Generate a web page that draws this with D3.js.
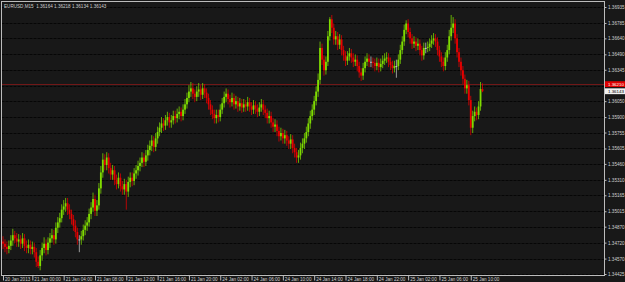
<!DOCTYPE html>
<html>
<head>
<meta charset="utf-8">
<script src="https://cdn.jsdelivr.net/npm/d3@7"></script>
<style>
  body { margin: 0; background: #181818; }
</style>
</head>
<body>
<div id="chart"></div>
<script>
// EURUSD M15, one value per candle
const symbolTitle = "EURUSD,M15  1.36164 1.36218 1.36134 1.36143"

const opens = [
  1.3473,1.3471,1.3468,1.3466,1.3469,1.3474,1.3479,1.3476,1.3473,1.3475,
  1.3471,1.3476,1.3469,1.3467,1.3470,1.3466,1.3468,1.3463,1.3454,1.3450,
  1.3460,1.3467,1.3471,1.3465,1.3472,1.3476,1.3479,1.3475,1.3486,1.3491,
  1.3495,1.3503,1.3506,1.3509,1.3503,1.3499,1.3494,1.3488,1.3482,1.3475,
  1.3475,1.3478,1.3484,1.3488,1.3491,1.3499,1.3505,1.3513,1.3502,1.3507,
  1.3523,1.3538,1.3550,1.3545,1.3552,1.3542,1.3536,1.3540,1.3531,1.3527,
  1.3533,1.3525,1.3522,1.3527,1.3520,1.3529,1.3533,1.3530,1.3537,1.3540,
  1.3544,1.3547,1.3552,1.3548,1.3554,1.3559,1.3563,1.3568,1.3562,1.3570,
  1.3576,1.3580,1.3584,1.3582,1.3587,1.3590,1.3585,1.3587,1.3591,1.3589,
  1.3593,1.3595,1.3591,1.3597,1.3602,1.3608,1.3614,1.3617,1.3612,1.3609,
  1.3614,1.3616,1.3611,1.3617,1.3613,1.3608,1.3602,1.3597,1.3593,1.3589,
  1.3592,1.3590,1.3597,1.3603,1.3609,1.3612,1.3607,1.3604,1.3608,1.3602,
  1.3605,1.3600,1.3603,1.3599,1.3602,1.3600,1.3604,1.3600,1.3597,1.3601,
  1.3598,1.3595,1.3599,1.3602,1.3597,1.3594,1.3589,1.3591,1.3585,1.3581,
  1.3583,1.3577,1.3572,1.3575,1.3570,1.3573,1.3568,1.3565,1.3569,1.3561,
  1.3557,1.3552,1.3554,1.3561,1.3565,1.3570,1.3576,1.3584,1.3591,1.3597,
  1.3605,1.3614,1.3625,1.3655,1.3644,1.3634,1.3642,1.3666,1.3682,1.3674,
  1.3663,1.3666,1.3658,1.3663,1.3653,1.3648,1.3643,1.3647,1.3650,1.3646,
  1.3642,1.3644,1.3638,1.3632,1.3629,1.3636,1.3642,1.3645,1.3642,1.3642,
  1.3641,1.3638,1.3641,1.3637,1.3640,1.3643,1.3645,1.3646,1.3642,1.3639,
  1.3636,1.3638,1.3638,1.3644,1.3653,1.3661,1.3672,1.3678,1.3670,1.3664,
  1.3659,1.3661,1.3657,1.3659,1.3653,1.3648,1.3655,1.3655,1.3656,1.3659,
  1.3662,1.3664,1.3661,1.3653,1.3647,1.3642,1.3638,1.3646,1.3653,1.3666,
  1.3674,1.3678,1.3664,1.3651,1.3642,1.3634,1.3626,1.3617,1.3620,1.3606,
  1.3580,1.3591,1.3595,1.3592,1.3600,1.36164
]

const highs = [
  1.3478,1.3475,1.3473,1.3474,1.3479,1.3485,1.3483,1.3481,1.3480,1.3479,
  1.3481,1.3480,1.3474,1.3475,1.3474,1.3473,1.3472,1.3467,1.3459,1.3465,
  1.3472,1.3477,1.3475,1.3477,1.3481,1.3485,1.3484,1.3491,1.3496,1.3500,
  1.3508,1.3512,1.3514,1.3514,1.3508,1.3503,1.3498,1.3493,1.3486,1.3479,
  1.3483,1.3489,1.3493,1.3496,1.3504,1.3510,1.3519,1.3517,1.3512,1.3528,
  1.3544,1.3556,1.3555,1.3557,1.3556,1.3547,1.3545,1.3544,1.3536,1.3538,
  1.3537,1.3530,1.3532,1.3531,1.3534,1.3538,1.3538,1.3542,1.3545,1.3549,
  1.3552,1.3557,1.3556,1.3559,1.3564,1.3568,1.3573,1.3572,1.3575,1.3581,
  1.3585,1.3590,1.3589,1.3592,1.3595,1.3594,1.3592,1.3596,1.3596,1.3598,
  1.3600,1.3599,1.3602,1.3607,1.3613,1.3620,1.3623,1.3622,1.3616,1.3619,
  1.3622,1.3620,1.3622,1.3621,1.3617,1.3612,1.3606,1.3601,1.3597,1.3597,
  1.3597,1.3602,1.3608,1.3614,1.3617,1.3616,1.3611,1.3613,1.3612,1.3610,
  1.3609,1.3608,1.3607,1.3607,1.3606,1.3609,1.3608,1.3604,1.3606,1.3605,
  1.3602,1.3604,1.3607,1.3606,1.3601,1.3598,1.3596,1.3595,1.3589,1.3588,
  1.3587,1.3581,1.3580,1.3579,1.3578,1.3577,1.3572,1.3574,1.3573,1.3565,
  1.3561,1.3559,1.3566,1.3570,1.3575,1.3581,1.3589,1.3596,1.3602,1.3610,
  1.3619,1.3631,1.3661,1.3659,1.3648,1.3647,1.3671,1.3684,1.3686,1.3678,
  1.3671,1.3670,1.3668,1.3667,1.3657,1.3652,1.3652,1.3655,1.3654,1.3650,
  1.3649,1.3648,1.3642,1.3636,1.3641,1.3647,1.3650,1.3649,1.3647,1.3646,
  1.3645,1.3646,1.3645,1.3645,1.3648,1.3650,1.3651,1.3650,1.3646,1.3643,
  1.3643,1.3644,1.3649,1.3658,1.3666,1.3677,1.3681,1.3682,1.3674,1.3668,
  1.3666,1.3665,1.3664,1.3663,1.3657,1.3660,1.3660,1.3661,1.3664,1.3667,
  1.3669,1.3668,1.3665,1.3657,1.3651,1.3646,1.3651,1.3658,1.3672,1.3686,
  1.3684,1.3682,1.3668,1.3655,1.3646,1.3638,1.3630,1.3625,1.3624,1.3610,
  1.3596,1.3600,1.3599,1.3605,1.3623,1.36218
]

const lows = [
  1.3466,1.3463,1.3461,1.3462,1.3465,1.3469,1.3471,1.3468,1.3468,1.3466,
  1.3467,1.3464,1.3462,1.3462,1.3461,1.3461,1.3458,1.3449,1.3448,1.3446,
  1.3455,1.3462,1.3460,1.3461,1.3467,1.3472,1.3470,1.3471,1.3481,1.3486,
  1.3491,1.3498,1.3501,1.3498,1.3494,1.3489,1.3483,1.3477,1.3470,1.3463,
  1.3470,1.3474,1.3479,1.3483,1.3487,1.3494,1.3501,1.3497,1.3497,1.3503,
  1.3518,1.3533,1.3540,1.3540,1.3537,1.3531,1.3531,1.3526,1.3522,1.3523,
  1.3520,1.3517,1.3517,1.3503,1.3515,1.3524,1.3525,1.3526,1.3532,1.3535,
  1.3539,1.3543,1.3543,1.3544,1.3549,1.3554,1.3558,1.3557,1.3558,1.3565,
  1.3572,1.3575,1.3577,1.3578,1.3582,1.3580,1.3580,1.3583,1.3584,1.3585,
  1.3588,1.3586,1.3587,1.3593,1.3598,1.3604,1.3609,1.3607,1.3604,1.3605,
  1.3609,1.3606,1.3607,1.3608,1.3603,1.3597,1.3592,1.3588,1.3584,1.3584,
  1.3585,1.3586,1.3593,1.3599,1.3604,1.3602,1.3599,1.3600,1.3597,1.3598,
  1.3595,1.3596,1.3594,1.3595,1.3595,1.3596,1.3595,1.3592,1.3593,1.3593,
  1.3590,1.3591,1.3595,1.3592,1.3589,1.3584,1.3584,1.3580,1.3576,1.3576,
  1.3572,1.3567,1.3568,1.3565,1.3565,1.3563,1.3560,1.3560,1.3556,1.3552,
  1.3547,1.3547,1.3550,1.3556,1.3560,1.3566,1.3572,1.3579,1.3587,1.3592,
  1.3601,1.3609,1.3621,1.3639,1.3629,1.3630,1.3638,1.3662,1.3669,1.3658,
  1.3658,1.3653,1.3654,1.3648,1.3643,1.3638,1.3639,1.3643,1.3641,1.3637,
  1.3638,1.3633,1.3627,1.3624,1.3625,1.3632,1.3638,1.3637,1.3637,1.3636,
  1.3633,1.3634,1.3632,1.3633,1.3636,1.3639,1.3641,1.3637,1.3634,1.3631,
  1.3632,1.3627,1.3634,1.3640,1.3649,1.3657,1.3668,1.3665,1.3659,1.3654,
  1.3655,1.3652,1.3653,1.3648,1.3643,1.3644,1.3650,1.3651,1.3652,1.3655,
  1.3658,1.3656,1.3648,1.3642,1.3637,1.3633,1.3634,1.3642,1.3649,1.3662,
  1.3669,1.3659,1.3646,1.3637,1.3629,1.3621,1.3612,1.3612,1.3601,1.3573,
  1.3575,1.3586,1.3587,1.3588,1.3596,1.36134
]

const closes = [
  1.3471,1.3468,1.3466,1.3469,1.3474,1.3479,1.3476,1.3473,1.3475,1.3471,
  1.3476,1.3469,1.3467,1.3470,1.3466,1.3468,1.3463,1.3454,1.3450,1.3460,
  1.3467,1.3471,1.3465,1.3472,1.3476,1.3479,1.3475,1.3486,1.3491,1.3495,
  1.3503,1.3506,1.3509,1.3503,1.3499,1.3494,1.3488,1.3482,1.3475,1.3475,
  1.3478,1.3484,1.3488,1.3491,1.3499,1.3505,1.3513,1.3502,1.3507,1.3523,
  1.3538,1.3550,1.3545,1.3552,1.3542,1.3536,1.3540,1.3531,1.3527,1.3533,
  1.3525,1.3522,1.3527,1.3520,1.3529,1.3533,1.3530,1.3537,1.3540,1.3544,
  1.3547,1.3552,1.3548,1.3554,1.3559,1.3563,1.3568,1.3562,1.3570,1.3576,
  1.3580,1.3584,1.3582,1.3587,1.3590,1.3585,1.3587,1.3591,1.3589,1.3593,
  1.3595,1.3591,1.3597,1.3602,1.3608,1.3614,1.3617,1.3612,1.3609,1.3614,
  1.3616,1.3611,1.3617,1.3613,1.3608,1.3602,1.3597,1.3593,1.3589,1.3592,
  1.3590,1.3597,1.3603,1.3609,1.3612,1.3607,1.3604,1.3608,1.3602,1.3605,
  1.3600,1.3603,1.3599,1.3602,1.3600,1.3604,1.3600,1.3597,1.3601,1.3598,
  1.3595,1.3599,1.3602,1.3597,1.3594,1.3589,1.3591,1.3585,1.3581,1.3583,
  1.3577,1.3572,1.3575,1.3570,1.3573,1.3568,1.3565,1.3569,1.3561,1.3557,
  1.3552,1.3554,1.3561,1.3565,1.3570,1.3576,1.3584,1.3591,1.3597,1.3605,
  1.3614,1.3625,1.3655,1.3644,1.3634,1.3642,1.3666,1.3682,1.3674,1.3663,
  1.3666,1.3658,1.3663,1.3653,1.3648,1.3643,1.3647,1.3650,1.3646,1.3642,
  1.3644,1.3638,1.3632,1.3629,1.3636,1.3642,1.3645,1.3642,1.3642,1.3641,
  1.3638,1.3641,1.3637,1.3640,1.3643,1.3645,1.3646,1.3642,1.3639,1.3636,
  1.3638,1.3638,1.3644,1.3653,1.3661,1.3672,1.3678,1.3670,1.3664,1.3659,
  1.3661,1.3657,1.3659,1.3653,1.3648,1.3655,1.3655,1.3656,1.3659,1.3662,
  1.3664,1.3661,1.3653,1.3647,1.3642,1.3638,1.3646,1.3653,1.3666,1.3674,
  1.3678,1.3664,1.3651,1.3642,1.3634,1.3626,1.3617,1.3620,1.3606,1.3580,
  1.3591,1.3595,1.3592,1.3600,1.36164,1.36143
]

// price scale labels (right side)
const priceLabels = [
  1.36935,1.36785,1.36640,1.36490,1.36345,1.36195,1.36050,1.35900,1.35755,
  1.35605,1.35460,1.35310,1.35165,1.35015,1.34870,1.34720,1.34570,1.34425
]

// time scale labels and the candle they sit on
const timeLabels = [
  "20 Jan 2013","21 Jan 00:00","21 Jan 04:00","21 Jan 08:00","21 Jan 12:00",
  "21 Jan 16:00","21 Jan 20:00","24 Jan 02:00","24 Jan 06:00","24 Jan 10:00",
  "24 Jan 14:00","24 Jan 18:00","24 Jan 22:00","25 Jan 02:00","25 Jan 06:00",
  "25 Jan 10:00"
]
const timeBars = [0,15,31,47,63,79,95,111,127,143,159,175,191,207,223,239]

const markerPrice = 1.36210
const lastPrice = 1.36143

const upColor = "#7fdc00"
const downColor = "#e80000"
const dojiColor = "#c4c4c4"
const textColor = "#cfcfcf"
const fontFamily = "'Liberation Sans', Arial, sans-serif"

const width = 625, height = 282
const plot = { left: 1.5, top: 1.5, right: 604.5, bottom: 275.5 }

const svg = d3.select("#chart")
  .append("svg")
  .attr("width", width)
  .attr("height", height)

svg.append("rect")
  .attr("width", width)
  .attr("height", height)
  .attr("fill", "#181818")

// scales
const x = d3.scaleLinear()
  .domain([0, closes.length - 1])
  .range([3, 482.5])

const y = d3.scaleLinear()
  .domain([d3.min(priceLabels), d3.max(priceLabels)])
  .range([274, 7])

// horizontal grid
svg.append("g")
  .selectAll("line")
  .data(priceLabels)
  .join("line")
  .attr("x1", plot.left)
  .attr("x2", plot.right)
  .attr("y1", d => Math.round(y(d)) + 0.5)
  .attr("y2", d => Math.round(y(d)) + 0.5)
  .attr("stroke", "#060606")
  .attr("stroke-dasharray", "3,1")

// marker line
svg.append("line")
  .attr("x1", plot.left)
  .attr("x2", plot.right)
  .attr("y1", Math.round(y(markerPrice)) + 0.5)
  .attr("y2", Math.round(y(markerPrice)) + 0.5)
  .attr("stroke", "#701818")

const bars = closes.map((c, i) => ({ i, o: opens[i], h: highs[i], l: lows[i], c }))
const barColor = d => d.c > d.o ? upColor : d.c < d.o ? downColor : dojiColor

// wicks
svg.append("g")
  .selectAll("line")
  .data(bars)
  .join("line")
  .attr("x1", d => x(d.i))
  .attr("x2", d => x(d.i))
  .attr("y1", d => y(d.h))
  .attr("y2", d => y(d.l))
  .attr("stroke", barColor)
  .attr("stroke-opacity", 0.75)
  .attr("stroke-width", 1)

// bodies
svg.append("g")
  .selectAll("rect")
  .data(bars)
  .join("rect")
  .attr("x", d => x(d.i) - 0.9)
  .attr("width", 1.8)
  .attr("y", d => y(Math.max(d.o, d.c)))
  .attr("height", d => Math.max(1, Math.abs(y(d.o) - y(d.c))))
  .attr("fill", barColor)

// frame
svg.append("rect")
  .attr("x", plot.left)
  .attr("y", plot.top)
  .attr("width", plot.right - plot.left)
  .attr("height", plot.bottom - plot.top)
  .attr("fill", "none")
  .attr("stroke", "#bcbcbc")

// price axis, the label under the red tag is hidden like on the terminal
svg.append("g")
  .attr("transform", `translate(${plot.right},0)`)
  .call(d3.axisRight(y).tickValues(priceLabels)
    .tickFormat(d => Math.abs(d - markerPrice) < 0.0004 ? "" : d3.format(".5f")(d))
    .tickSize(2).tickPadding(1.5))
  .call(g => g.select(".domain").remove())
  .call(g => g.selectAll(".tick line").attr("stroke", "#bcbcbc"))
  .call(g => g.selectAll(".tick text")
    .attr("fill", textColor)
    .attr("font-size", 4.6)
    .attr("font-family", fontFamily))

// time axis
svg.append("g")
  .attr("transform", `translate(0,${plot.bottom})`)
  .call(d3.axisBottom(x).tickValues(timeBars).tickFormat((d, i) => timeLabels[i]).tickSize(5))
  .call(g => g.select(".domain").remove())
  .call(g => g.selectAll(".tick line").attr("stroke", "#bcbcbc"))
  .call(g => g.selectAll(".tick text")
    .attr("fill", textColor)
    .attr("font-size", 4.6)
    .attr("font-family", fontFamily)
    .attr("text-anchor", "start")
    .attr("x", 1.5)
    .attr("y", 2.5))

// price tags on the scale
const tags = [
  { price: markerPrice, fill: "#e00000", color: "#ffffff" },
  { price: lastPrice, fill: "#f2f2f2", color: "#000000" },
]
const tagG = svg.append("g")
tagG.selectAll("rect")
  .data(tags)
  .join("rect")
  .attr("x", plot.right + 0.5)
  .attr("width", width - plot.right)
  .attr("y", d => y(d.price) - 2.9)
  .attr("height", 5.8)
  .attr("fill", d => d.fill)
tagG.selectAll("text")
  .data(tags)
  .join("text")
  .attr("x", plot.right + 3.5)
  .attr("y", d => y(d.price))
  .attr("dy", "0.34em")
  .attr("fill", d => d.color)
  .attr("font-size", 4.4)
  .attr("font-family", fontFamily)
  .text(d => d3.format(".5f")(d.price))

// symbol line
svg.append("text")
  .attr("x", 4)
  .attr("y", 8)
  .attr("fill", textColor)
  .attr("font-size", 4.6)
  .attr("font-family", fontFamily)
  .style("white-space", "pre")
  .text(symbolTitle)
</script>
</body>
</html>
